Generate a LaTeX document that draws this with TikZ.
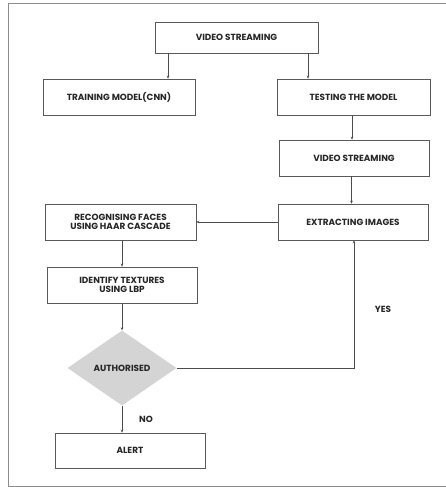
\documentclass[tikz,border=0pt]{standalone}
\usepackage{fontspec}
\setmainfont{Poppins}
\usetikzlibrary{shapes.geometric,arrows.meta}
\begin{document}
\begin{tikzpicture}[x=1pt,y=-1pt,
  box/.style={draw=black!65,line width=0.6pt,inner sep=1pt,align=center,
    font=\fontsize{8.9}{9.2}\selectfont\bfseries,text=black!85},
  dia/.style={diamond,fill=black!17,inner sep=0pt,
    font=\fontsize{8.9}{9.2}\selectfont\bfseries,text=black!85},
  arr/.style={draw=black!70,line width=0.6pt,-{Stealth[length=3pt,width=2.6pt]}},
  lab/.style={font=\fontsize{8.9}{9.2}\selectfont\bfseries,text=black!85}]
\useasboundingbox (0,0) rectangle (446,487);
\draw[black!45,line width=0.8pt] (446,3) -- (8,3) -- (8,486) -- (446,486);
\node[box,minimum width=163pt,minimum height=31pt] (vs1) at (236.5,37.5) {VIDEO STREAMING};
\node[box,minimum width=152pt,minimum height=36pt] (train) at (119,97) {TRAINING MODEL(CNN)};
\node[box,minimum width=153pt,minimum height=36pt] (test) at (353.5,97) {TESTING THE MODEL};
\node[box,minimum width=150pt,minimum height=36pt] (vs2) at (354,158) {VIDEO STREAMING};
\node[box,minimum width=150pt,minimum height=36pt] (extract) at (353,222) {EXTRACTING IMAGES};
\node[box,minimum width=151pt,minimum height=36pt] (recog) at (120.5,222) {RECOGNISING FACES\\USING HAAR CASCADE};
\node[box,minimum width=150pt,minimum height=36pt] (ident) at (122,285) {IDENTIFY TEXTURES\\USING LBP};
\node[dia,minimum width=109pt,minimum height=75pt] (auth) at (122,368) {AUTHORISED};
\node[box,minimum width=150pt,minimum height=35pt] (alert) at (130,450.5) {ALERT};
\node[lab] (yes) at (383,309) {YES};
\node[lab] (no) at (146,419) {NO};
\draw[arr] ([xshift=-68.5pt]vs1.south) -- ([xshift=-68.5pt]vs1.south |- train.north);
\draw[arr] ([xshift=71.5pt]vs1.south) -- ([xshift=71.5pt]vs1.south |- test.north);
\draw[arr] ([xshift=-1.5pt]test.south) -- ([xshift=-1.5pt]test.south |- vs2.north);
\draw[arr] ([xshift=-2.5pt]vs2.south) -- ([xshift=-2.5pt]vs2.south |- extract.north);
\draw[arr] (extract.west) -- (recog.east);
\draw[arr] (recog.south -| ident.north) -- (ident.north);
\draw[arr] (ident.south) -- (auth.north);
\draw[arr] (auth.south) -- (auth.south |- alert.north);
\draw[arr] (auth.east) -| ([xshift=1pt]extract.south);
\end{tikzpicture}
\end{document}
